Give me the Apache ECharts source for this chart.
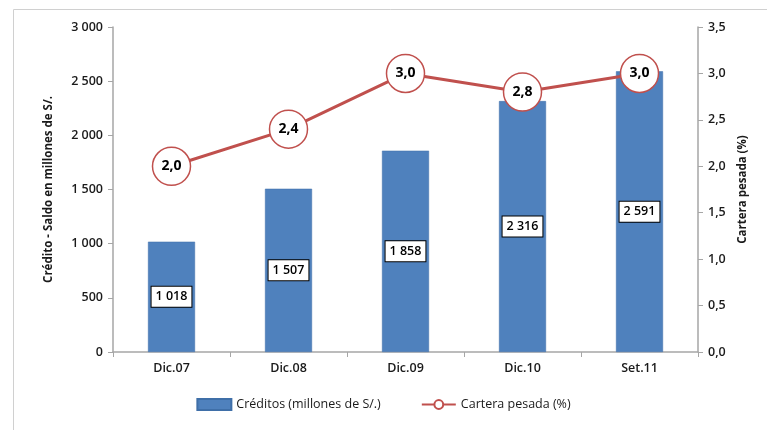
<!DOCTYPE html>
<html>
<head>
  <meta charset="utf-8">
  <title>Créditos y cartera pesada</title>
  <script src="https://cdn.jsdelivr.net/npm/echarts@6/dist/echarts.min.js"></script>
  <style>
    html, body { margin: 0; padding: 0; background: #fff; }
    #main { width: 767px; height: 430px; }
  </style>
</head>
<body>
<div id="main"></div>
<script>
// datos del grafico
var categorias = ['Dic.07', 'Dic.08', 'Dic.09', 'Dic.10', 'Set.11'];
var creditos = [1018, 1507, 1858, 2316, 2591];
var carteraPesada = [2.0, 2.4, 3.0, 2.8, 3.0];

var fuente = 'Open Sans';
var txt = '#1a1a1a';

function miles(v) {
  return String(Math.round(v)).replace(/\B(?=(\d{3})+(?!\d))/g, ' ');
}
function decimal(v) {
  return v.toFixed(1).replace('.', ',');
}

var myChart = echarts.init(document.getElementById('main'));
var option = {
  animation: false,
  textStyle: { fontFamily: fuente, color: txt },
  graphic: [{
    type: 'rect',
    shape: { x: 13.5, y: 9.5, width: 760, height: 430 },
    style: { fill: 'none', stroke: '#d0d0d0', lineWidth: 1 },
    z: -1
  }],
  grid: { left: 113, right: 69, top: 27, bottom: 78 },
  legend: {
    bottom: 14,
    left: 'center',
    itemGap: 40,
    itemWidth: 34,
    itemHeight: 11,
    textStyle: { fontFamily: fuente, fontSize: 12.5, color: txt },
    data: [
      { name: 'Créditos (millones de S/.)', icon: 'rect' },
      { name: 'Cartera pesada (%)' }
    ]
  },
  xAxis: {
    type: 'category',
    data: categorias,
    axisLine: { lineStyle: { color: '#a6a6a6', width: 1.5 } },
    axisTick: { show: true, alignWithLabel: false, length: 5, lineStyle: { color: '#a6a6a6' } },
    axisLabel: { fontFamily: fuente, fontSize: 12.5, fontWeight: 600, color: txt, margin: 10 }
  },
  yAxis: [{
    type: 'value',
    min: 0, max: 3000, interval: 500,
    name: 'Crédito - Saldo en millones de S/.',
    nameLocation: 'middle',
    nameGap: 58,
    nameTextStyle: { fontFamily: fuente, fontSize: 11.5, fontWeight: 'bold', color: txt },
    axisLine: { show: true, lineStyle: { color: '#a6a6a6', width: 1.5 } },
    axisTick: { show: true, length: 5, lineStyle: { color: '#a6a6a6' } },
    axisLabel: { fontFamily: fuente, fontSize: 12.5, fontWeight: 600, color: txt, margin: 10, formatter: miles },
    splitLine: { show: false }
  }, {
    type: 'value',
    min: 0, max: 3.5, interval: 0.5,
    name: 'Cartera pesada (%)',
    nameLocation: 'middle',
    nameGap: 36,
    nameRotate: 90,
    nameTextStyle: { fontFamily: fuente, fontSize: 11.5, fontWeight: 'bold', color: txt },
    axisLine: { show: true, lineStyle: { color: '#a6a6a6', width: 1.5 } },
    axisTick: { show: true, length: 5, lineStyle: { color: '#a6a6a6' } },
    axisLabel: { fontFamily: fuente, fontSize: 12.5, fontWeight: 600, color: txt, margin: 10, formatter: decimal },
    splitLine: { show: false }
  }],
  series: [{
    name: 'Créditos (millones de S/.)',
    type: 'bar',
    data: creditos,
    barWidth: 47,
    itemStyle: { color: '#4f81bd', borderColor: '#3f6fa8', borderWidth: 0.5 },
    label: {
      show: true,
      position: 'inside',
      formatter: function (p) { return miles(p.value); },
      fontFamily: fuente, fontSize: 12.5, fontWeight: 600, color: '#000',
      backgroundColor: '#fff', borderColor: '#000', borderWidth: 1,
      padding: [4, 4, 3, 4]
    }
  }, {
    name: 'Cartera pesada (%)',
    type: 'line',
    yAxisIndex: 1,
    data: carteraPesada,
    symbol: 'circle',
    symbolSize: 38,
    lineStyle: { color: '#c0504d', width: 3 },
    itemStyle: { color: '#fff', borderColor: '#c0504d', borderWidth: 1.5 },
    label: {
      show: true,
      position: 'inside',
      formatter: function (p) { return decimal(p.value); },
      fontFamily: fuente, fontSize: 14, fontWeight: 'bold', color: '#000'
    },
    z: 5
  }]
};
myChart.setOption(option);
</script>
</body>
</html>
